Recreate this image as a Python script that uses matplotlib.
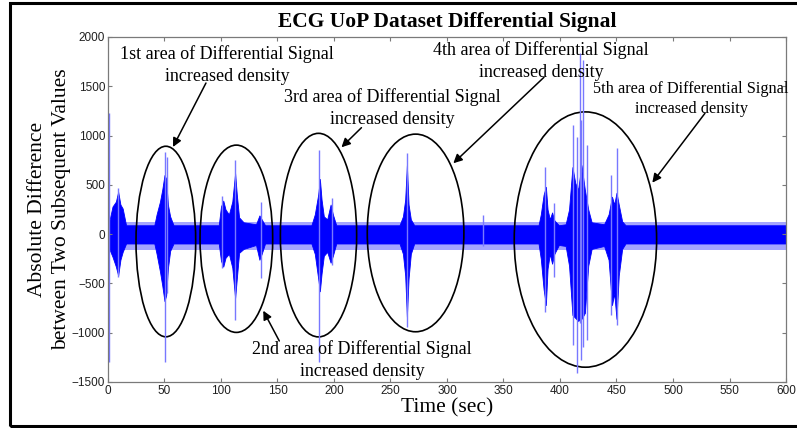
import numpy as np
import matplotlib.pyplot as plt
from matplotlib.patches import Ellipse, Rectangle

# dense part of the differential signal (upper / lower envelope)
env_t = [0, 1.5, 4, 7, 9, 11, 13, 16,
         41, 43, 46, 48, 50, 51.5, 53, 55, 58,
         98, 100, 102, 104, 107, 110, 112.5, 114, 116, 120, 131, 134, 136, 139,
         180, 183, 186, 187.5, 189, 191, 194, 197, 199, 202,
         258, 261, 263, 264.5, 266, 268, 271,
         381, 383, 385.5, 387.5, 389, 391, 393, 395, 399, 405, 408, 411, 413.5,
         416, 419, 422, 425, 428, 439, 443, 446, 448, 450, 452, 455, 458, 600]
env_hi = [90, 150, 280, 330, 430, 300, 260, 90,
          90, 200, 330, 450, 600, 560, 300, 180, 90,
          90, 280, 340, 250, 200, 330, 620, 400, 170, 120, 100, 190, 150, 90,
          90, 200, 400, 560, 350, 180, 150, 300, 200, 90,
          90, 180, 350, 700, 300, 150, 90,
          90, 200, 400, 480, 250, 150, 220, 140, 90, 100, 250, 680, 520,
          450, 700, 450, 250, 120, 100, 200, 380, 300, 420, 300, 130, 90, 90]
env_lo = [-95, -160, -230, -330, -420, -260, -180, -95,
          -95, -200, -380, -520, -680, -620, -350, -170, -95,
          -95, -270, -330, -240, -200, -340, -650, -450, -190, -150, -110, -260, -200, -95,
          -95, -200, -450, -580, -400, -220, -180, -290, -220, -95,
          -95, -200, -420, -840, -450, -200, -95,
          -95, -250, -560, -720, -350, -200, -300, -200, -110, -120, -320, -820, -850,
          -880, -860, -800, -320, -150, -120, -260, -720, -600, -860, -420, -150, -95, -95]

# light noisy fringe around the baseline
fringe_hi = 125
fringe_lo = -160

# single thin excursions
spike_t = [0.8, 9, 50.5, 52, 101, 112.5, 135.5, 187, 198, 264.5, 332,
           386.7, 395, 411.5, 415, 417.5, 419, 420.5, 424, 445, 450.4]
spike_hi = [1230, 466, 830, 780, 385, 750, 330, 850, 365, 822, 193,
            680, 314, 1105, 984, 1835, 1156, 1765, 900, 600, 872]
spike_lo = [-1300, -436, -1300, -600, -345, -870, -440, -1300, -315, -943, -120,
            -790, -430, -1126, -1410, -900, -1278, -1150, -1075, -821, -923]

serif = ['Liberation Serif', 'DejaVu Serif']
sans = ['Liberation Sans', 'DejaVu Sans']

fig = plt.figure(figsize=(7.97, 4.28), dpi=100)
ax = fig.add_axes([0.1355, 0.1075, 0.8507, 0.8061])

ax.fill_between([0, 600], [fringe_hi] * 2, [fringe_lo] * 2,
                color='#a4a4ff', lw=0)
ax.fill_between(env_t, env_hi, env_lo, color='#0000ff', lw=0.6,
                edgecolor='#0000ff')
ax.vlines(spike_t, spike_lo, spike_hi, color='#7878ff', lw=1.0)

ax.set_xlim(0, 600)
ax.set_ylim(-1500, 2000)
ax.set_xticks(np.arange(0, 601, 50))
ax.set_yticks(np.arange(-1500, 2001, 500))
for s in ax.spines.values():
    s.set_color('#7a7a7a')
    s.set_linewidth(0.9)
ax.tick_params(direction='in', length=3, width=0.8, color='#7a7a7a',
               top=True, right=True, labelsize=8.5, labelcolor='#202020',
               pad=2)
for lab in ax.get_xticklabels() + ax.get_yticklabels():
    lab.set_family(sans)

# ---------------ellipses around the dense regions--------------- #
ellipses = [(51.2, -75, 52.8, 1933),
            (113.6, -47, 64.3, 1900),
            (186.3, -10, 67.5, 2065),
            (272.2, 12, 85.5, 2005),
            (422.5, -55, 126, 2590)]
for cx, cy, w, h in ellipses:
    ax.add_patch(Ellipse((cx, cy), w, h, fill=False, ec='k', lw=1.2,
                         clip_on=False))

# ---------------labels and arrows--------------- #
notes = [('1st', 105.3, 1716, 13), ('2nd', 224.8, -1277, 13),
         ('3rd', 251.3, 1280, 13), ('4th', 383.2, 1757, 13),
         ('5th', 516, 1371, 11.7)]
for nth, tx, ty, fs in notes:
    ax.text(tx, ty, nth + ' area of Differential Signal\nincreased density',
            ha='center', va='center', multialignment='center',
            fontsize=fs, family=serif, linespacing=1.38, clip_on=False)

arrows = [((86.7, 1533), (57.5, 884)),
          ((151.6, -1084), (137.4, -777)),
          ((224.3, 1080), (206.6, 881)),
          ((385.8, 1591), (305.6, 719)),
          ((528.3, 1226), (481.7, 522))]
for tail, head in arrows:
    ax.annotate('', xy=head, xytext=tail,
                arrowprops=dict(arrowstyle='-|>', color='k', lw=1.1,
                                mutation_scale=13, shrinkA=0, shrinkB=0))

fig.text(447 / 797, 1 - 26.7 / 428, 'ECG UoP Dataset Differential Signal',
         ha='center', va='baseline', fontsize=15.5, fontweight='bold',
         family=serif)
ax.set_xlabel('Time (sec)', fontsize=15.5, family=serif, labelpad=1)
ax.set_ylabel('Absolute Difference\nbetween Two Subsequent Values',
              fontsize=15.5, family=serif, linespacing=1.35, labelpad=0.5)

# outer frame (cut off on the right like the source image)
fig.add_artist(Rectangle((10 / 797, 2 / 428), 1.0, 423 / 428,
                         transform=fig.transFigure, fill=False, ec='k',
                         lw=2.2, clip_on=False))

fig.savefig('out.png', dpi=100)
